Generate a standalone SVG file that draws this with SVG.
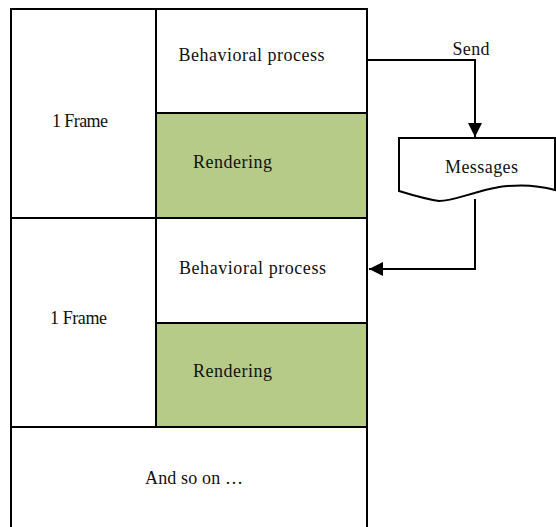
<svg xmlns="http://www.w3.org/2000/svg" width="556" height="527" viewBox="0 0 556 527">
<style>
.cell{fill:#ffffff;stroke:#000000;stroke-width:2}
.green{fill:#b6cb88;stroke:#000000;stroke-width:2}
.lbl{font-family:"Liberation Serif","Times New Roman",serif;font-size:18px;fill:#111111;text-anchor:middle}
.conn{fill:none;stroke:#000000;stroke-width:2}
</style>
<defs>
<marker id="arr" viewBox="0 0 10 10" refX="10" refY="5" markerWidth="7.5" markerHeight="7" markerUnits="strokeWidth" orient="auto">
<path d="M0,0 L10,5 L0,10 Z" fill="#000000"/>
</marker>
</defs>
<rect x="0" y="0" width="556" height="527" fill="#ffffff"/>
<g id="frame1"><rect class="cell" x="11" y="9" width="145" height="209"/><text class="lbl" x="80" y="127" textLength="56">1 Frame</text></g>
<g id="behavior1"><rect class="cell" x="156" y="9" width="211" height="104"/><text class="lbl" x="251.5" y="61" textLength="146">Behavioral  process</text></g>
<g id="rendering1"><rect class="green" x="156" y="113" width="211" height="105"/><text class="lbl" x="232.5" y="168" textLength="79">Rendering</text></g>
<g id="frame2"><rect class="cell" x="11" y="218" width="145" height="209"/><text class="lbl" x="78.5" y="324" textLength="57">1 Frame</text></g>
<g id="behavior2"><rect class="cell" x="156" y="218" width="211" height="105"/><text class="lbl" x="252.5" y="274" textLength="147">Behavioral  process</text></g>
<g id="rendering2"><rect class="green" x="156" y="323" width="211" height="104"/><text class="lbl" x="232.5" y="377" textLength="79">Rendering</text></g>
<g id="andsoon"><rect class="cell" x="11" y="427" width="356" height="110"/><text class="lbl" x="194" y="484" textLength="98">And so on …</text></g>
<g id="messages"><path class="cell" d="M399,138 H555 V190 C530,183 505,184 478,192 C460,197 450,201 439,201 C425,199 412,195 399,191 Z"/><text class="lbl" x="481.5" y="173" textLength="73">Messages</text></g>
<g id="connectors">
<path class="conn" d="M367,60 H475 V137" marker-end="url(#arr)"/>
<text class="lbl" x="471" y="55" textLength="37">Send</text>
<path class="conn" d="M475,199 V269 H369" marker-end="url(#arr)"/>
</g>
</svg>
